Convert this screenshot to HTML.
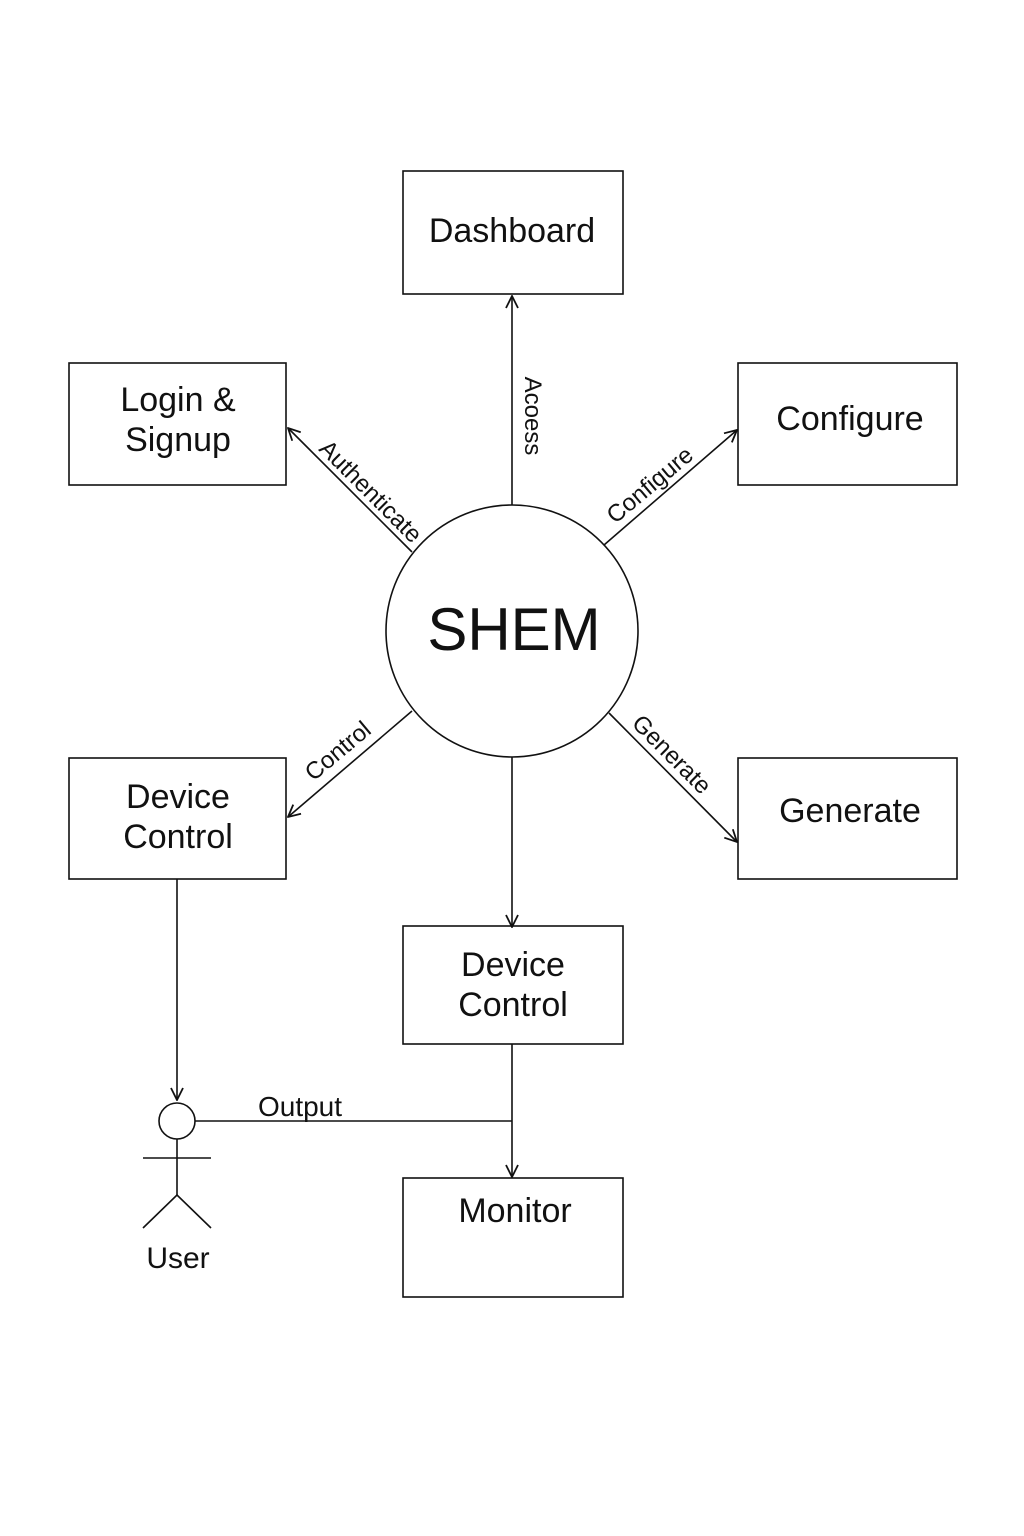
<!DOCTYPE html>
<html><head><meta charset="utf-8"><style>html,body{margin:0;padding:0;background:#fff}svg{display:block}</style></head>
<body>
<svg width="1024" height="1536" viewBox="0 0 1024 1536" xmlns="http://www.w3.org/2000/svg" font-family="Liberation Sans, sans-serif" fill="none" stroke="#111" stroke-width="1.6">
<defs><marker id="a" viewBox="0 0 14 14" refX="13" refY="7" markerWidth="14" markerHeight="14" markerUnits="userSpaceOnUse" orient="auto"><path d="M1,1 L13,7 L1,13" fill="none" stroke="#111" stroke-width="1.8"/></marker></defs>
<rect x="403" y="171" width="220" height="123"/>
<rect x="69" y="363" width="217" height="122"/>
<rect x="738" y="363" width="219" height="122"/>
<rect x="69" y="758" width="217" height="121"/>
<rect x="738" y="758" width="219" height="121"/>
<rect x="403" y="926" width="220" height="118"/>
<rect x="403" y="1178" width="220" height="119"/>
<circle cx="512" cy="631" r="126"/>
<line x1="512" y1="505" x2="512" y2="296" marker-end="url(#a)"/>
<line x1="412" y1="552" x2="288" y2="428" marker-end="url(#a)"/>
<line x1="604" y1="545" x2="737" y2="430" marker-end="url(#a)"/>
<line x1="412" y1="711" x2="288" y2="817" marker-end="url(#a)"/>
<line x1="609" y1="713" x2="737" y2="842" marker-end="url(#a)"/>
<line x1="512" y1="757" x2="512" y2="927" marker-end="url(#a)"/>
<line x1="177" y1="879" x2="177" y2="1100" marker-end="url(#a)"/>
<line x1="512" y1="1044" x2="512" y2="1177" marker-end="url(#a)"/>
<line x1="195" y1="1121" x2="512" y2="1121"/>
<circle cx="177" cy="1121" r="18"/>
<line x1="177" y1="1139" x2="177" y2="1195"/>
<line x1="143" y1="1158" x2="211" y2="1158"/>
<polyline points="143,1228 177,1195 211,1228"/>
<g fill="#111" stroke="none" text-anchor="middle">
<text x="512" y="242" font-size="34">Dashboard</text>
<text x="178" y="411" font-size="34">Login &amp;</text>
<text x="178" y="451" font-size="34">Signup</text>
<text x="850" y="430" font-size="34">Configure</text>
<text x="178" y="808" font-size="34">Device</text>
<text x="178" y="848" font-size="34">Control</text>
<text x="850" y="822" font-size="34">Generate</text>
<text x="513" y="976" font-size="34">Device</text>
<text x="513" y="1016" font-size="34">Control</text>
<text x="515" y="1222" font-size="34">Monitor</text>
<text x="514" y="650" font-size="60">SHEM</text>
<text x="178" y="1268" font-size="30">User</text>
<text x="300" y="1116" font-size="28">Output</text>
<text font-size="24" transform="translate(525,416) rotate(90)">Acoess</text>
<text font-size="24" transform="translate(365,497) rotate(45)">Authenticate</text>
<text font-size="24" transform="translate(655,491) rotate(-40)">Configure</text>
<text font-size="24" transform="translate(343,757) rotate(-40)">Control</text>
<text font-size="24" transform="translate(666,760) rotate(45)">Generate</text>
</g>
</svg>
</body></html>
